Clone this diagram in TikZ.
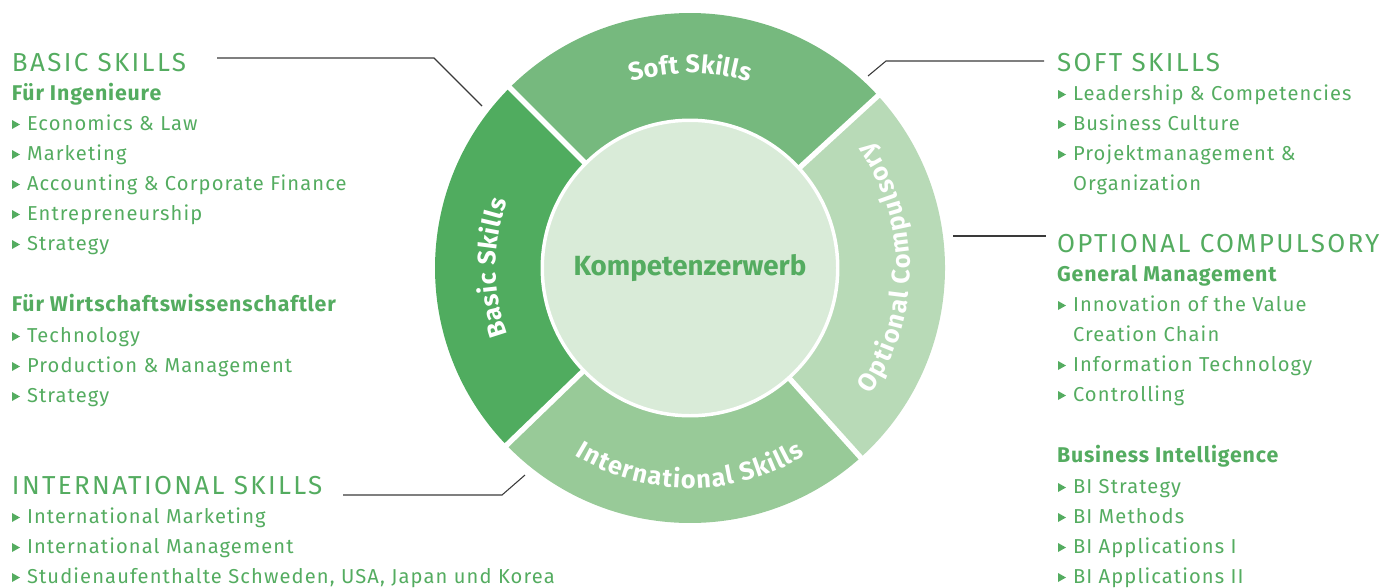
\documentclass[tikz,border=0pt]{standalone}
\usepackage{fontspec}
\setmainfont{Fira Sans}
\newfontfamily\itemfont{Fira Sans}[LetterSpace=5.5]
\newfontfamily\headfont{Fira Sans}[LetterSpace=9]
\newfontfamily\subfont{Fira Sans}[LetterSpace=4]
\newfontfamily\arcfont{Fira Sans}
\usetikzlibrary{decorations.text}
\definecolor{gBasic}{HTML}{50AC5F}
\definecolor{gSoft}{HTML}{76B97E}
\definecolor{gIntl}{HTML}{98CA98}
\definecolor{gOpt}{HTML}{B8DAB7}
\definecolor{gInner}{HTML}{D9EBD8}
\definecolor{gText}{HTML}{54AC60}
\definecolor{leader}{HTML}{3A3A3A}
\newcommand\skillitem[4]{%
  \fill[gText] (#2,{10-#3}) -- ++(8,-4.5) -- ++(-8,-4.5) -- cycle;
  \node[item] (#1) at ({#2+15},-#3) {#4};}
\newcommand\contitem[4]{%
  \node[item] (#1) at ({#2+15},-#3) {#4};}
\begin{document}
\begin{tikzpicture}[x=0.75pt,y=0.75pt,
  txt/.style={anchor=base west, inner sep=0pt, outer sep=0pt, text=gText},
  head/.style={txt, font=\headfont\fontsize{19.5}{20}\selectfont},
  sub/.style={txt, font=\subfont\bfseries\fontsize{16}{17}\selectfont},
  item/.style={txt, font=\itemfont\fontsize{15.1}{16}\selectfont},
  leaderline/.style={draw=leader, line width=0.8pt},
  gap/.style={draw=white, line width=4pt},
  arctext/.style={decorate, decoration={text along path, text align=center,
     text={|\arcfont\bfseries\fontsize{19}{20}\selectfont\color{white}|#1}}},
]
\useasboundingbox (0,0) rectangle (1394,-587);
\coordinate (C) at (690,-268);

% ring segments
\begin{scope}[shift={(690,-268)}]
\fill[gSoft]  (0,0) -- (42.5:255) arc[start angle=42.5, end angle=135, radius=255] -- cycle;
\fill[gBasic] (0,0) -- (135:255) arc[start angle=135, end angle=224, radius=255] -- cycle;
\fill[gIntl]  (0,0) -- (224:255) arc[start angle=224, end angle=312, radius=255] -- cycle;
\fill[gOpt]   (0,0) -- (312:255) arc[start angle=312, end angle=402.5, radius=255] -- cycle;
\foreach \a in {42.5,135,224,312} \draw[gap] (0,0) -- (\a:262);
\path[arctext={{S\kern0.2pt}{o\kern0.2pt}{f\kern0.2pt}{t\kern0.2pt} {S\kern0.2pt}{k\kern0.2pt}{i\kern0.2pt}{l\kern0.2pt}{l\kern0.2pt}{s}}]
  (150:195) arc[start angle=150, end angle=30, radius=195];
\path[arctext={{B\kern0.5pt}{a\kern0.5pt}{s\kern0.5pt}{i\kern0.5pt}{c\kern0.5pt} {S\kern0.5pt}{k\kern0.5pt}{i\kern0.5pt}{l\kern0.5pt}{l\kern0.5pt}{s}}]
  (240:194) arc[start angle=240, end angle=120, radius=194];
\path[arctext={{I\kern0.9pt}{n\kern0.9pt}{t\kern0.9pt}{e\kern0.9pt}{r\kern0.9pt}{n\kern0.9pt}{a\kern0.9pt}{t\kern0.9pt}{i\kern0.9pt}{o\kern0.9pt}{n\kern0.9pt}{a\kern0.9pt}{l\kern0.9pt} {S\kern0.9pt}{k\kern0.9pt}{i\kern0.9pt}{l\kern0.9pt}{l\kern0.9pt}{s}}]
  (200:220) arc[start angle=200, end angle=340, radius=220];
\path[arctext={{O\kern1.1pt}{p\kern1.1pt}{t\kern1.1pt}{i\kern1.1pt}{o\kern1.1pt}{n\kern1.1pt}{a\kern1.1pt}{l\kern1.1pt} {C\kern1.1pt}{o\kern1.1pt}{m\kern1.1pt}{p\kern1.1pt}{u\kern1.1pt}{l\kern1.1pt}{s\kern1.1pt}{o\kern1.1pt}{r\kern1.1pt}{y}}]
  (-75:220) arc[start angle=-75, end angle=75, radius=220];
\end{scope}
\node[circle, fill=gInner, draw=white, line width=2.6pt, minimum size=221.6pt, inner sep=0pt,
      text=gText, font=\bfseries\fontsize{20.8}{22}\selectfont] (core) at (C) {Kompetenzerwerb};

% leader lines
\coordinate (bA) at (217,-58);
\coordinate (bB) at (434,-58);
\coordinate (bC) at (482,-106);
\draw[leaderline] (bA) -- (bB) -- (bC);
\coordinate (sA) at (868,-76);
\coordinate (sB) at (886,-61);
\coordinate (sC) at (1044,-61);
\draw[leaderline] (sA) -- (sB) -- (sC);
\coordinate (oA) at (953,-236);
\coordinate (oB) at (1046,-236);
\draw[leaderline] (oA) -- (oB);
\coordinate (iA) at (343,-495);
\coordinate (iB) at (502,-495);
\coordinate (iC) at (525,-475);
\draw[leaderline] (iA) -- (iB) -- (iC);

% left column
\node[head] (basic) at (12,-71) {BASIC SKILLS};
\node[sub] (fing) at (12,-100) {Für Ingenieure};
\skillitem{l1}{12}{130}{Economics \& Law}
\skillitem{l2}{12}{160}{Marketing}
\skillitem{l3}{12}{190}{Accounting \& Corporate Finance}
\skillitem{l4}{12}{220}{Entrepreneurship}
\skillitem{l5}{12}{250}{Strategy}
\node[sub] (fwiw) at (12,-311) {Für Wirtschaftswissenschaftler};
\skillitem{l6}{12}{342}{Technology}
\skillitem{l7}{12}{372}{Production \& Management}
\skillitem{l8}{12}{402}{Strategy}
\node[head] (intl) at (12,-494) {INTERNATIONAL SKILLS};
\skillitem{l9}{12}{523}{International Marketing}
\skillitem{l10}{12}{553}{International Management}
\skillitem{l11}{12}{583}{Studienaufenthalte Schweden, USA, Japan und Korea}

% right column
\node[head] (soft) at (1057,-71) {SOFT SKILLS};
\skillitem{r1}{1058}{100}{Leadership \& Competencies}
\skillitem{r2}{1058}{130}{Business Culture}
\skillitem{r3}{1058}{160}{Projektmanagement \&}
\contitem{r4}{1058}{190}{Organization}
\node[head] (opt) at (1057,-252) {OPTIONAL COMPULSORY};
\node[sub] (gm) at (1057,-281) {General Management};
\skillitem{r5}{1058}{311}{Innovation of the Value}
\contitem{r6}{1058}{341}{Creation Chain}
\skillitem{r7}{1058}{371}{Information Technology}
\skillitem{r8}{1058}{401}{Controlling}
\node[sub] (bi) at (1057,-462) {Business Intelligence};
\skillitem{r9}{1058}{493}{BI Strategy}
\skillitem{r10}{1058}{523}{BI Methods}
\skillitem{r11}{1058}{553}{BI Applications I}
\skillitem{r12}{1058}{583}{BI Applications II}
\end{tikzpicture}
\end{document}
